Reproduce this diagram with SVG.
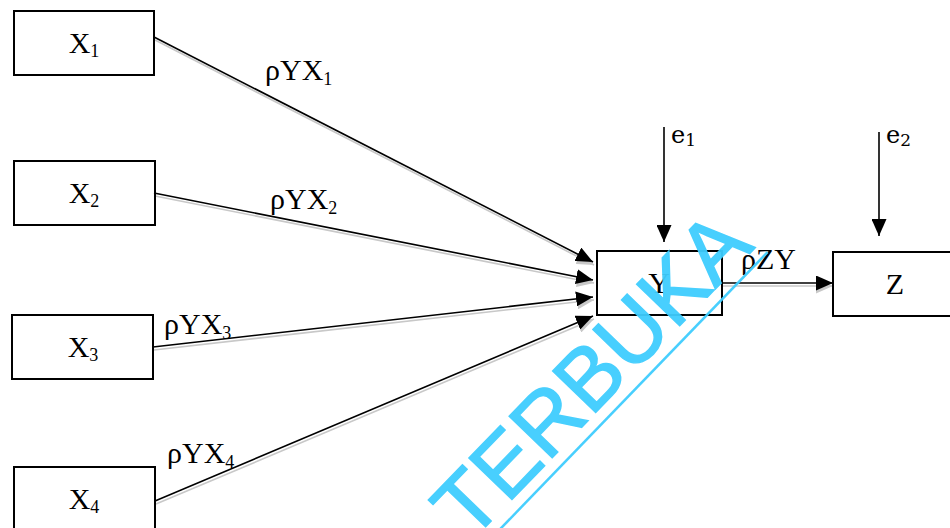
<svg xmlns="http://www.w3.org/2000/svg" width="950" height="528" viewBox="0 0 950 528">
<defs>
<style>
.box{fill:none;stroke:#000;stroke-width:2}
.t{font-family:"Liberation Serif","Times New Roman",serif;font-size:30px;fill:#000}
.s{font-size:18px}
.e{font-family:"DejaVu Serif","Liberation Serif",serif;font-size:24px;fill:#000}
.es{font-size:17px}
.ln{stroke:#000;stroke-width:1.6;fill:none}
.sh{stroke:#c8c8c8;stroke-width:1.6;fill:none}
.wm{font-family:"Liberation Sans",Arial,sans-serif;font-size:87px;fill:#3fcdfe;stroke:#3fcdfe;stroke-width:1.4}
</style>
<marker id="ah" markerUnits="userSpaceOnUse" markerWidth="17" markerHeight="15" refX="17" refY="7.5" orient="auto"><path d="M0,0L17,7.5L0,15z" fill="#000"/></marker>
<marker id="ahs" markerUnits="userSpaceOnUse" markerWidth="17" markerHeight="15" refX="17" refY="7.5" orient="auto"><path d="M0,0L17,7.5L0,15z" fill="#c8c8c8"/></marker>
</defs>
<rect width="950" height="528" fill="#fff"/>

<g id="connectors">
<g id="shadows">
<line class="sh" x1="155" y1="40" x2="594" y2="265" marker-end="url(#ahs)"/>
<line class="sh" x1="155" y1="196" x2="594" y2="283" marker-end="url(#ahs)"/>
<line class="sh" x1="154" y1="350" x2="594" y2="300" marker-end="url(#ahs)"/>
<line class="sh" x1="156" y1="504" x2="594" y2="319" marker-end="url(#ahs)"/>
<line class="sh" x1="722" y1="286" x2="833" y2="286" marker-end="url(#ahs)"/>
</g>
<line class="ln" x1="154" y1="37" x2="593" y2="262" marker-end="url(#ah)"/>
<line class="ln" x1="154" y1="193" x2="593" y2="280" marker-end="url(#ah)"/>
<line class="ln" x1="153" y1="347" x2="593" y2="297" marker-end="url(#ah)"/>
<line class="ln" x1="155" y1="501" x2="593" y2="316" marker-end="url(#ah)"/>
<line class="ln" x1="722" y1="283" x2="833" y2="283" marker-end="url(#ah)"/>
<line class="ln" x1="664" y1="127" x2="664" y2="242" marker-end="url(#ah)"/>
<line class="ln" x1="879" y1="132" x2="879" y2="236" marker-end="url(#ah)"/>
<text class="t" x="265" y="80">ρYX<tspan class="s" dy="5">1</tspan></text>
<text class="t" x="270" y="209">ρYX<tspan class="s" dy="5">2</tspan></text>
<text class="t" x="164" y="334">ρYX<tspan class="s" dy="5">3</tspan></text>
<text class="t" x="167" y="463">ρYX<tspan class="s" dy="5">4</tspan></text>
<text class="t" x="741" y="269">ρZY</text>
<text class="e" x="671" y="143">e<tspan class="es" dy="3">1</tspan></text>
<text class="e" x="886" y="143">e<tspan class="es" dy="3">2</tspan></text>
</g>

<g id="X1"><rect class="box" x="14" y="11" width="140" height="64"/><text class="t" x="84" y="53" text-anchor="middle">X<tspan class="s" dy="4">1</tspan></text></g>
<g id="X2"><rect class="box" x="14" y="161" width="141" height="64"/><text class="t" x="84" y="203" text-anchor="middle">X<tspan class="s" dy="4">2</tspan></text></g>
<g id="X3"><rect class="box" x="12" y="315" width="141" height="64"/><text class="t" x="83" y="357" text-anchor="middle">X<tspan class="s" dy="4">3</tspan></text></g>
<g id="X4"><rect class="box" x="14" y="467" width="141" height="64"/><text class="t" x="84" y="509" text-anchor="middle">X<tspan class="s" dy="4">4</tspan></text></g>
<g id="Y"><rect class="box" x="597" y="251" width="125" height="64"/><text class="t" x="659" y="293" text-anchor="middle">Y</text></g>
<g id="Z"><rect class="box" x="833" y="252" width="124" height="64"/><text class="t" x="895" y="294" text-anchor="middle">Z</text></g>

<g id="watermark" transform="translate(470,543) rotate(-46)" opacity="0.95">
<text class="wm" x="0" y="0">TERBUKA</text>
<line x1="0" y1="12" x2="416" y2="12" stroke="#3fcdfe" stroke-width="2.5"/>
</g>
</svg>
